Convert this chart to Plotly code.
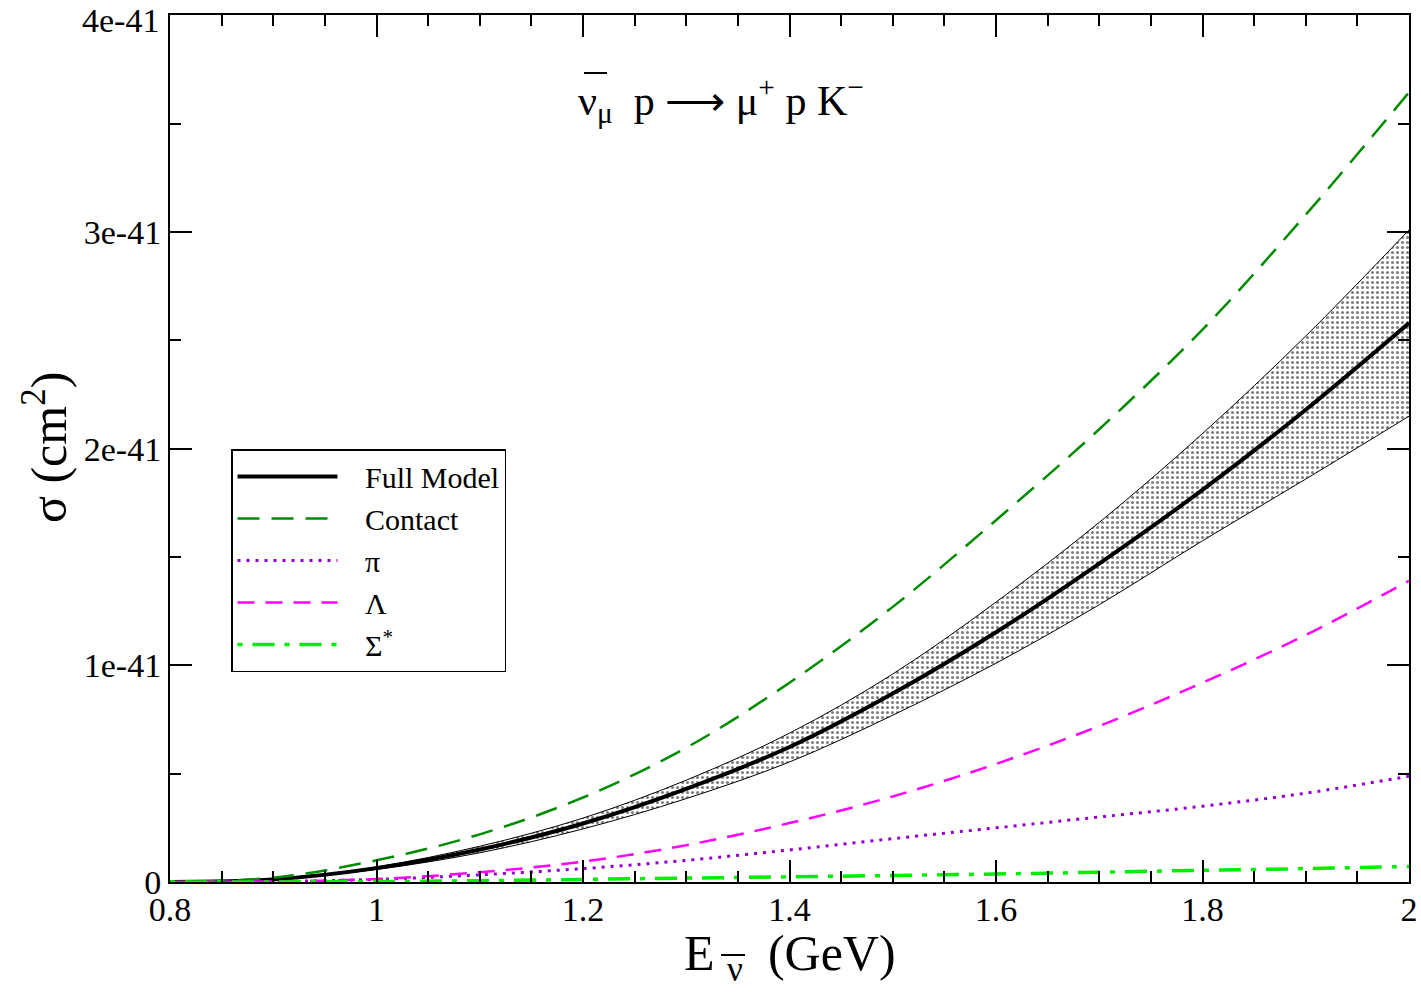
import plotly.graph_objects as go

# Energy (GeV)
energy = [0.8, 0.9, 1.0, 1.1, 1.2, 1.3, 1.4, 1.5, 1.6, 1.7, 1.8, 1.9, 2.0]
# cross sections in units of 1e-41 cm^2
full_model = [0.0, 0.012, 0.064, 0.15, 0.27, 0.43, 0.623, 0.87, 1.153, 1.47, 1.81, 2.18, 2.58]
band_upper = [0.0, 0.013, 0.07, 0.165, 0.295, 0.47, 0.687, 0.96, 1.292, 1.66, 2.07, 2.52, 3.01]
band_lower = [0.0, 0.011, 0.058, 0.135, 0.245, 0.385, 0.554, 0.77, 1.01, 1.28, 1.575, 1.86, 2.15]
contact = [0.0, 0.02, 0.10, 0.22, 0.39, 0.62, 0.92, 1.27, 1.67, 2.09, 2.55, 3.08, 3.645]
lam = [0.0, 0.003, 0.014, 0.045, 0.094, 0.17, 0.272, 0.395, 0.545, 0.72, 0.92, 1.14, 1.39]
pion = [0.0, 0.002, 0.012, 0.033, 0.062, 0.10, 0.148, 0.20, 0.25, 0.30, 0.35, 0.41, 0.488]
sigma_star = [0.0, 0.0005, 0.002, 0.006, 0.012, 0.018, 0.024, 0.03, 0.037, 0.045, 0.054, 0.062, 0.072]

y_tickvals = [0, 1, 2, 3, 4]
y_ticktext = ["0", "1e-41", "2e-41", "3e-41", ""]
top_tick_label = "4e-41"

FONT = "Liberation Serif"
NB = "\u00a0"

def px_x(p):
    return (p - 170) / 1239

def px_y(p):
    return (882 - p) / 867

fig = go.Figure()

# uncertainty band
fig.add_trace(go.Scatter(x=energy, y=band_lower, mode="lines", line=dict(color="black", width=1, shape="spline"),
                         showlegend=False, hoverinfo="skip"))
fig.add_trace(go.Scatter(x=energy, y=band_upper, mode="lines", line=dict(color="black", width=1, shape="spline"),
                         fill="tonexty", fillcolor="white",
                         fillpattern=dict(shape=".", fgcolor="black", bgcolor="white", size=5, solidity=0.3),
                         showlegend=False, hoverinfo="skip"))

fig.add_trace(go.Scatter(x=energy, y=full_model, mode="lines", name=NB * 3 + "Full Model",
                         line=dict(color="black", width=4, shape="spline")))
fig.add_trace(go.Scatter(x=energy, y=contact, mode="lines", name=NB * 3 + "Contact",
                         line=dict(color="#008c00", width=2.5, dash="22px,12px", shape="spline")))
fig.add_trace(go.Scatter(x=energy, y=pion, mode="lines", name=NB * 3 + "π",
                         line=dict(color="#9400d3", width=3, dash="3px,6px", shape="spline")))
fig.add_trace(go.Scatter(x=energy, y=lam, mode="lines", name=NB * 3 + "Λ",
                         line=dict(color="#ff00ff", width=2.5, dash="17px,11px", shape="spline")))
fig.add_trace(go.Scatter(x=energy, y=sigma_star, mode="lines", name=NB * 3 + "Σ<sup>*</sup>",
                         line=dict(color="#00ee00", width=3.5, dash="5px,10px,22px,10px", shape="spline")))

axis_common = dict(
    showgrid=False, zeroline=False, showline=True, linecolor="black", linewidth=2,
    mirror="allticks", ticks="inside", ticklen=22, tickwidth=1.5, tickcolor="black",
    tickfont=dict(family=FONT, size=34, color="black"), ticklabeloverflow="allow",
    automargin=False,
)

fig.update_xaxes(range=[0.8, 2.0], dtick=0.2, tick0=0.8, ticklabelstandoff=-4,
                 minor=dict(dtick=0.05, ticklen=11, tickwidth=1.5, tickcolor="black", ticks="inside"),
                 **axis_common)
fig.update_yaxes(range=[0, 4.002], tickvals=y_tickvals, ticktext=y_ticktext,
                 minor=dict(tickvals=[0.5, 1.5, 2.5, 3.5], ticklen=11, tickwidth=1.5, tickcolor="black", ticks="inside"),
                 **axis_common)

fig.update_layout(
    width=1421, height=992,
    margin=dict(l=170, r=12, t=15, b=110),
    paper_bgcolor="white", plot_bgcolor="white",
    font=dict(family=FONT, color="black"),
    legend=dict(x=px_x(231), y=px_y(449), xanchor="left", yanchor="top", traceorder="normal",
                bgcolor="white", bordercolor="black", borderwidth=1.5,
                font=dict(family=FONT, size=30, color="black"),
                itemwidth=100, tracegroupgap=0),
    annotations=[
        dict(text=top_tick_label, xref="paper", yref="paper",
             x=px_x(161), y=px_y(20), xanchor="right", yanchor="middle",
             showarrow=False, font=dict(family=FONT, size=34, color="black")),
        dict(text="ν<sub>μ</sub>  p ⟶ μ<sup>+</sup> p K<sup>−</sup>", xref="paper", yref="paper",
             x=px_x(721), y=px_y(100), xanchor="center", yanchor="middle",
             showarrow=False, font=dict(family=FONT, size=42, color="black")),
        dict(text="σ (cm<sup>2</sup>)", xref="paper", yref="paper", textangle=-90,
             x=px_x(45), y=px_y(448), xanchor="center", yanchor="middle",
             showarrow=False, font=dict(family=FONT, size=50, color="black")),
        dict(text="E <sub>ν</sub>  (GeV)", xref="paper", yref="paper",
             x=px_x(790), y=px_y(957), xanchor="center", yanchor="middle",
             showarrow=False, font=dict(family=FONT, size=50, color="black")),
    ],
    shapes=[
        # overbar on nu in title
        dict(type="line", xref="paper", yref="paper", x0=px_x(584), x1=px_x(607), y0=px_y(73), y1=px_y(73),
             line=dict(color="black", width=2)),
        # overbar on nu in x-axis title
        dict(type="line", xref="paper", yref="paper", x0=px_x(721), x1=px_x(745), y0=px_y(955), y1=px_y(955),
             line=dict(color="black", width=2)),
    ],
)

fig.write_html("out.html")
